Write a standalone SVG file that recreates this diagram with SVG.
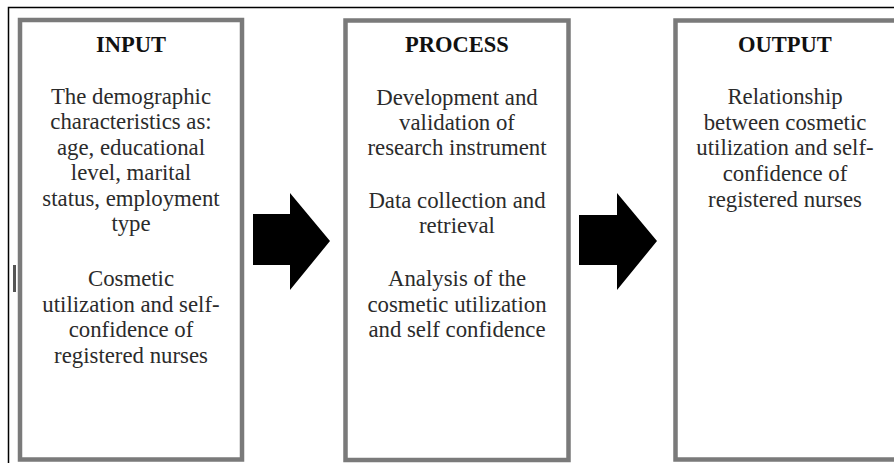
<svg xmlns="http://www.w3.org/2000/svg" width="894" height="463" viewBox="0 0 894 463">
<style>
.box{fill:#fff;stroke:#7a7a7a;stroke-width:4.5}
.t{font-family:"Liberation Serif","Times New Roman",serif;font-size:22.8px;fill:#2b2b2b;text-anchor:middle}
.h{font-family:"Liberation Serif","Times New Roman",serif;font-size:22.5px;font-weight:bold;fill:#111;text-anchor:middle}
.arr{fill:#000}
</style>
<rect x="0" y="0" width="894" height="463" fill="#fff"/>
<path d="M8.5 463 V7.5 H894" fill="none" stroke="#000" stroke-width="1.5"/>
<rect x="13" y="265" width="3" height="27" fill="#555"/>
<g id="input">
<rect class="box" x="20" y="20" width="222" height="439.5"/>
<text class="h" x="131" y="52">INPUT</text>
<text class="t" x="131" y="104">The demographic</text>
<text class="t" x="131" y="129">characteristics as:</text>
<text class="t" x="131" y="155">age, educational</text>
<text class="t" x="131" y="180">level, marital</text>
<text class="t" x="131" y="206">status, employment</text>
<text class="t" x="131" y="231">type</text>
<text class="t" x="131" y="286">Cosmetic</text>
<text class="t" x="131" y="312">utilization and self-</text>
<text class="t" x="131" y="337">confidence of</text>
<text class="t" x="131" y="363">registered nurses</text>
</g>
<g id="process">
<rect class="box" x="345.5" y="20.5" width="223" height="439.5"/>
<text class="h" x="457" y="52">PROCESS</text>
<text class="t" x="457" y="105">Development and</text>
<text class="t" x="457" y="130">validation of</text>
<text class="t" x="457" y="155">research instrument</text>
<text class="t" x="457" y="208">Data collection and</text>
<text class="t" x="457" y="233">retrieval</text>
<text class="t" x="457" y="286">Analysis of the</text>
<text class="t" x="457" y="312">cosmetic utilization</text>
<text class="t" x="457" y="337">and self confidence</text>
</g>
<g id="output">
<rect class="box" x="675.5" y="20.5" width="222" height="439"/>
<text class="h" x="785" y="52">OUTPUT</text>
<text class="t" x="785" y="104">Relationship</text>
<text class="t" x="785" y="130">between cosmetic</text>
<text class="t" x="785" y="155">utilization and self-</text>
<text class="t" x="785" y="181">confidence of</text>
<text class="t" x="785" y="207">registered nurses</text>
</g>
<g id="connectors">
<path class="arr" d="M253 214 H290 V193 L330 241 L290 290 V265 H253 Z"/>
<path class="arr" d="M579 215 H617 V193 L657 241 L617 290 V265 H579 Z"/>
</g>
</svg>
